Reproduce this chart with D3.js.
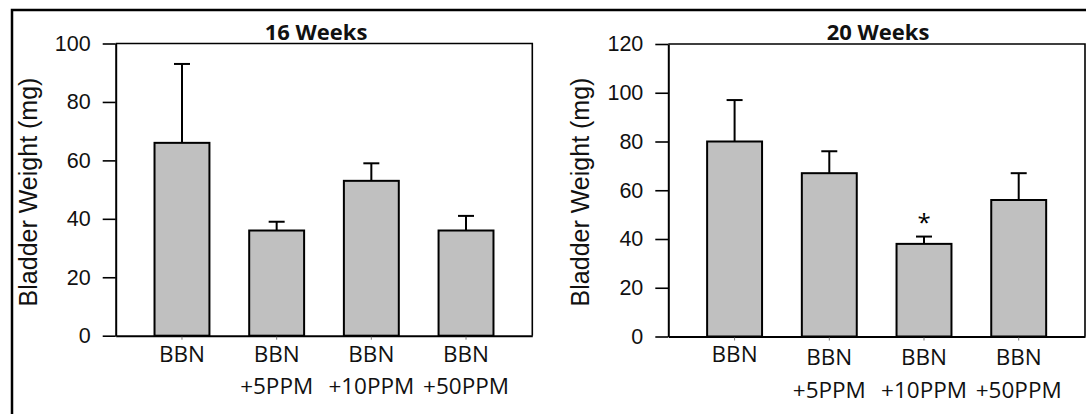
<!DOCTYPE html>
<html>
<head>
<meta charset="utf-8">
<script src="https://cdn.jsdelivr.net/npm/d3@7"></script>
<style>
  body { margin: 0; background: #fff; }
  svg { display: block; }
</style>
</head>
<body>
<div id="chart"></div>
<script>
// data
const groups = ["BBN", "BBN\n+5PPM", "BBN\n+10PPM", "BBN\n+50PPM"];
const weeks16Mean = [66, 36, 53, 36];
const weeks16Err = [27, 3, 6, 5];
const weeks16Ticks = [0, 20, 40, 60, 80, 100];
const weeks20Mean = [80, 67, 38, 56];
const weeks20Err = [17, 9, 3, 11];
const weeks20Ticks = [0, 20, 40, 60, 80, 100, 120];
const weeks20Marks = ["", "", "*", ""];

const W = 1086, H = 414;

const svg = d3.select("#chart")
  .append("svg")
  .attr("width", W)
  .attr("height", H);

// outer frame (cropped at right and bottom in the original)
svg.append("rect")
  .attr("x", 12).attr("y", 10)
  .attr("width", 1200).attr("height", 600)
  .attr("fill", "none")
  .attr("stroke", "#000")
  .attr("stroke-width", 2.5);

function drawPanel(opt) {
  const x = d3.scaleBand()
    .domain(groups)
    .range([opt.left, opt.right])
    .paddingInner(0.42)
    .paddingOuter(0.41);

  const y = d3.scaleLinear()
    .domain([0, d3.max(opt.ticks)])
    .range([opt.bottom, opt.top]);

  const g = svg.append("g");

  // top and right frame lines
  g.append("path")
    .attr("d", "M" + opt.left + "," + opt.top + "H" + opt.right + "V" + opt.bottom)
    .attr("fill", "none")
    .attr("stroke", "#000")
    .attr("stroke-width", 1.6);

  // y axis
  const yAxis = g.append("g")
    .attr("transform", "translate(" + opt.left + ",0)")
    .call(d3.axisLeft(y).tickValues(opt.ticks).tickSize(13).tickPadding(12).tickSizeOuter(0));
  yAxis.select(".domain").attr("stroke-width", 2);
  yAxis.selectAll(".tick line").attr("stroke-width", 1.6);
  yAxis.selectAll(".tick text")
    .attr("font-family", "'Liberation Sans', Arial, sans-serif")
    .attr("font-size", 21.5)
    .attr("fill", "#111");

  // x axis line with small ticks under the bars
  const xAxis = g.append("g")
    .attr("transform", "translate(0," + opt.bottom + ")")
    .call(d3.axisBottom(x).tickSize(4).tickSizeOuter(0).tickFormat(""));
  xAxis.select(".domain").attr("stroke-width", 2);
  xAxis.selectAll(".tick line").attr("stroke", "#777").attr("stroke-width", 1);

  // category labels (two lines)
  const labels = g.selectAll(".xlab")
    .data(groups)
    .enter().append("text")
    .attr("class", "xlab")
    .attr("text-anchor", "middle")
    .attr("font-family", "'Open Sans', sans-serif")
    .attr("font-size", 22.5)
    .attr("fill", "#111");
  labels.each(function(d) {
    const lines = d.split("\n");
    const shift = lines.length > 1 ? opt.labelShift : 0;
    d3.select(this).selectAll("tspan")
      .data(lines)
      .enter().append("tspan")
      .attr("x", x(d) + x.bandwidth() / 2)
      .attr("y", function(l, i) { return 361.7 + shift + i * 32.5; })
      .text(function(l) { return l; });
  });

  // error bars (upper only)
  const err = g.selectAll(".err")
    .data(opt.mean)
    .enter().append("g")
    .attr("class", "err");
  err.append("line")
    .attr("x1", function(d, i) { return x(groups[i]) + x.bandwidth() / 2; })
    .attr("x2", function(d, i) { return x(groups[i]) + x.bandwidth() / 2; })
    .attr("y1", function(d) { return y(d); })
    .attr("y2", function(d, i) { return y(d + opt.err[i]); })
    .attr("stroke", "#000")
    .attr("stroke-width", 2);
  err.append("line")
    .attr("x1", function(d, i) { return x(groups[i]) + x.bandwidth() / 2 - 8; })
    .attr("x2", function(d, i) { return x(groups[i]) + x.bandwidth() / 2 + 8; })
    .attr("y1", function(d, i) { return y(d + opt.err[i]); })
    .attr("y2", function(d, i) { return y(d + opt.err[i]); })
    .attr("stroke", "#000")
    .attr("stroke-width", 2);

  // bars
  g.selectAll(".bar")
    .data(opt.mean)
    .enter().append("rect")
    .attr("class", "bar")
    .attr("x", function(d, i) { return x(groups[i]); })
    .attr("y", function(d) { return y(d); })
    .attr("width", x.bandwidth())
    .attr("height", function(d) { return y(0) - y(d); })
    .attr("fill", "#c0c0c0")
    .attr("stroke", "#000")
    .attr("stroke-width", 2);

  // significance marks
  if (opt.marks) {
    g.selectAll(".mark")
      .data(opt.marks)
      .enter().append("text")
      .attr("x", function(d, i) { return x(groups[i]) + x.bandwidth() / 2; })
      .attr("y", function(d, i) { return y(opt.mean[i] + opt.err[i]) - 6; })
      .attr("text-anchor", "middle")
      .attr("font-family", "'Open Sans', sans-serif")
      .attr("font-size", 24)
      .text(function(d) { return d; });
  }

  // panel title
  g.append("text")
    .attr("x", opt.titleX)
    .attr("y", 40)
    .attr("text-anchor", "middle")
    .attr("font-family", "'Open Sans', sans-serif")
    .attr("font-weight", "bold")
    .attr("font-size", 22)
    .attr("fill", "#111")
    .text(opt.title);

  // y axis title
  g.append("text")
    .attr("transform", "translate(" + opt.labelX + ",192) rotate(-90)")
    .attr("text-anchor", "middle")
    .attr("font-family", "'Liberation Sans', Arial, sans-serif")
    .attr("font-size", 25)
    .attr("fill", "#111")
    .text("Bladder Weight (mg)");
}

drawPanel({
  mean: weeks16Mean, err: weeks16Err, ticks: weeks16Ticks,
  left: 115.7, right: 532.3, top: 43.5, bottom: 335.7,
  title: "16 Weeks", titleX: 316, labelX: 36.5, labelShift: 0
});

drawPanel({
  mean: weeks20Mean, err: weeks20Err, ticks: weeks20Ticks, marks: weeks20Marks,
  left: 668.3, right: 1085, top: 44, bottom: 336.5,
  title: "20 Weeks", titleX: 878, labelX: 589, labelShift: 3.5
});
</script>
</body>
</html>
